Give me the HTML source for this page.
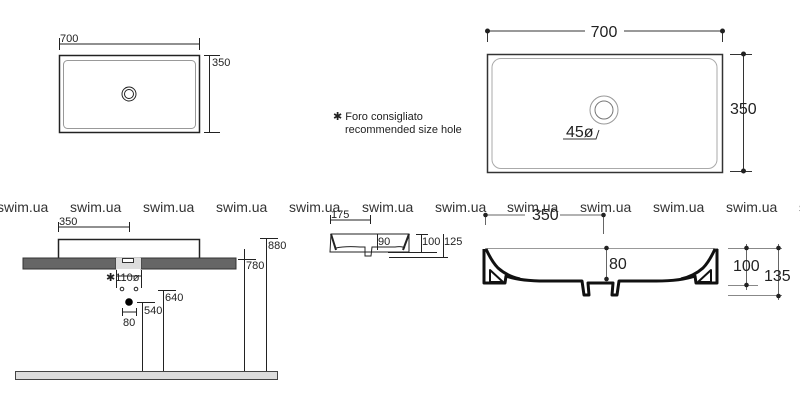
<!DOCTYPE html>
<html><head><meta charset="utf-8"><style>
html,body{margin:0;padding:0;background:#fff;}
svg{display:block;font-family:"Liberation Sans",Arial,sans-serif;}
</style></head><body>
<svg width="800" height="412" viewBox="0 0 800 412" xmlns="http://www.w3.org/2000/svg">
<!-- top-left plan -->
<g stroke="#222" fill="none">
<rect x="59.5" y="55.5" width="140" height="77" stroke-width="1.5"/>
<rect x="63.5" y="60.5" width="132" height="68" rx="4" stroke="#999" stroke-width="1"/>
<circle cx="129" cy="94" r="7" stroke-width="1"/>
<circle cx="129" cy="94" r="4.5" stroke-width="1"/>
<line x1="59" y1="44" x2="199" y2="44" stroke-width="1"/>
<line x1="59.5" y1="38" x2="59.5" y2="50"/><line x1="199.5" y1="38" x2="199.5" y2="50"/>
<line x1="209.5" y1="55" x2="209.5" y2="132"/>
<line x1="204" y1="55.5" x2="220" y2="55.5"/><line x1="204" y1="132.5" x2="220" y2="132.5"/>
</g>
<g fill="#222" font-size="11">
<text x="60" y="42">700</text><text x="212" y="66">350</text>
<text x="333" y="120">✱ Foro consigliato</text>
<text x="345" y="133">recommended size hole</text>
</g>
<!-- top-right plan -->
<g stroke="#333" fill="none">
<rect x="487.5" y="54.5" width="235" height="118" stroke-width="1.5"/>
<rect x="492" y="58.5" width="225" height="110" rx="9" stroke="#aaa"/>
<circle cx="604" cy="110" r="14" stroke="#999"/>
<circle cx="604" cy="110" r="9" stroke="#777"/>
<line x1="487" y1="31" x2="585" y2="31"/><line x1="624" y1="31" x2="722" y2="31"/>
<line x1="487.5" y1="31" x2="487.5" y2="42"/><line x1="722.5" y1="31" x2="722.5" y2="42"/>
<line x1="743.5" y1="54" x2="743.5" y2="172"/>
<line x1="730" y1="54.5" x2="752" y2="54.5"/><line x1="730" y1="171.5" x2="752" y2="171.5"/>
<polyline points="563,139 596,139 599,130"/>
</g>
<g fill="#222">
<circle cx="487.5" cy="31" r="2.5"/><circle cx="722.5" cy="31" r="2.5"/>
<circle cx="743.5" cy="54" r="2.5"/><circle cx="743.5" cy="171" r="2.5"/>
</g>
<g fill="#222" font-size="16">
<text x="604" y="37" text-anchor="middle">700</text>
<text x="730" y="114">350</text>
<text x="566" y="137">45ø</text>
</g>
<!-- watermark -->
<g fill="#333" font-size="14">
<text x="-3" y="212">swim.ua</text><text x="70" y="212">swim.ua</text><text x="143" y="212">swim.ua</text>
<text x="216" y="212">swim.ua</text><text x="289" y="212">swim.ua</text><text x="362" y="212">swim.ua</text>
<text x="435" y="212">swim.ua</text><text x="507" y="212">swim.ua</text><text x="580" y="212">swim.ua</text>
<text x="653" y="212">swim.ua</text><text x="726" y="212">swim.ua</text><text x="799" y="212">swim.ua</text>
</g>
<!-- left elevation -->
<g stroke="#222" fill="none">
<rect x="58.5" y="239.5" width="141" height="19" stroke-width="1.5"/>
<line x1="58.5" y1="227" x2="129" y2="227"/><line x1="58.5" y1="222" x2="58.5" y2="232"/><line x1="129.5" y1="222" x2="129.5" y2="232"/>
</g>
<rect x="23" y="258" width="93" height="11" fill="#666" stroke="#333"/>
<rect x="141" y="258" width="95" height="11" fill="#666" stroke="#333"/>
<rect x="116" y="258" width="25" height="11" fill="#ddd"/>
<rect x="122.5" y="258.5" width="11" height="4" fill="#fff" stroke="#333"/>
<g stroke="#222" fill="none">
<line x1="116.5" y1="270" x2="116.5" y2="288"/><line x1="141.5" y1="270" x2="141.5" y2="288"/>
<line x1="116" y1="276" x2="141" y2="276"/>
<circle cx="122" cy="289" r="1.8"/><circle cx="136" cy="289" r="1.8"/>
<line x1="122" y1="312" x2="136" y2="312"/><line x1="122.5" y1="308" x2="122.5" y2="316"/><line x1="136.5" y1="308" x2="136.5" y2="316"/>
<line x1="142.5" y1="302" x2="142.5" y2="371"/><line x1="137" y1="302.5" x2="155" y2="302.5"/>
<line x1="163.5" y1="290" x2="163.5" y2="371"/><line x1="158" y1="290.5" x2="176" y2="290.5"/>
<line x1="244.5" y1="249" x2="244.5" y2="371"/><line x1="238" y1="259.5" x2="256" y2="259.5"/>
<line x1="266.5" y1="238" x2="266.5" y2="371"/><line x1="260" y1="238.5" x2="278" y2="238.5"/>
</g>
<circle cx="129" cy="302" r="3.8" fill="#000"/>
<rect x="15.5" y="371.5" width="262" height="8" fill="#ddd" stroke="#444"/>
<g fill="#222" font-size="11">
<text x="59" y="225">350</text>
<text x="106" y="281">✱110ø</text>
<text x="123" y="326">80</text>
<text x="144" y="314">540</text><text x="165" y="301">640</text>
<text x="246" y="269">780</text><text x="268" y="249">880</text>
</g>
<!-- middle small section -->
<g stroke="#222" fill="none">
<path d="M331,234 L409,234 L409,252 L330,252 Z" stroke-width="1"/>
<path d="M331,234 L336,250 M409,234 L403,250" stroke-width="2"/>
<path d="M336,248 Q345,246 360,247 L365,247 L365,256 L371,256 L372,247 L395,247 Q402,246 405,248" stroke-width="1"/>
<line x1="330.5" y1="215" x2="330.5" y2="224"/><line x1="370.5" y1="215" x2="370.5" y2="224"/>
<line x1="330" y1="220" x2="370" y2="220"/>
<line x1="377.5" y1="234" x2="377.5" y2="250"/>
<line x1="416" y1="234.5" x2="428" y2="234.5"/><line x1="388" y1="252.5" x2="437" y2="252.5"/>
<line x1="421.5" y1="234" x2="421.5" y2="252"/><line x1="443.5" y1="234" x2="443.5" y2="258"/>
<line x1="389" y1="257.5" x2="448" y2="257.5"/>
</g>
<g fill="#222" font-size="11">
<text x="331" y="218">175</text><text x="378" y="245">90</text>
<text x="422" y="245">100</text><text x="444" y="245">125</text>
</g>
<!-- right section -->
<g stroke="#111" fill="none" stroke-linejoin="round">
<line x1="485" y1="248.5" x2="718" y2="248.5" stroke="#999"/>
<path d="M484,249 L484,283 L505,283 L506,276 Q520,281 545,281 L582,281 L584,295 L589,295 L588,283 L603,283" stroke-width="3"/>
<path d="M486,249 Q492,262 498,268 Q507,276 520,279" stroke-width="3"/>
<path d="M490,270 L490,282 L503,282 Z" stroke-width="2"/>
<path d="M717,249 L717,283 L696,283 L695,276 Q681,281 656,281 L619,281 L617,295 L612,295 L613,283 L603,283" stroke-width="3"/>
<path d="M715,249 Q709,262 703,268 Q694,276 681,279" stroke-width="3"/>
<path d="M711,270 L711,282 L698,282 Z" stroke-width="2"/>
<line x1="485.5" y1="214" x2="485.5" y2="225" stroke="#666"/>
<line x1="603.5" y1="214" x2="603.5" y2="234" stroke="#666"/>
<line x1="485" y1="215" x2="525" y2="215" stroke="#666"/><line x1="560" y1="215" x2="603" y2="215" stroke="#666"/>
<line x1="606.5" y1="247" x2="606.5" y2="279" stroke="#666"/>
<line x1="728" y1="248.5" x2="782" y2="248.5" stroke="#888"/>
<line x1="728" y1="285.5" x2="758" y2="285.5" stroke="#888"/>
<line x1="728" y1="295.5" x2="782" y2="295.5" stroke="#888"/>
<line x1="746.5" y1="244" x2="746.5" y2="290" stroke="#666"/>
<line x1="778.5" y1="244" x2="778.5" y2="300" stroke="#666"/>
</g>
<g fill="#222">
<circle cx="485.5" cy="215" r="2.3"/><circle cx="603.5" cy="215" r="2.3"/>
<circle cx="606.5" cy="248" r="2.3"/><circle cx="606.5" cy="279" r="2.3"/>
<circle cx="746.5" cy="248" r="2.3"/><circle cx="746.5" cy="285" r="2.3"/>
<circle cx="778.5" cy="248" r="2.3"/><circle cx="778.5" cy="296" r="2.3"/>
</g>
<g fill="#222" font-size="16">
<text x="532" y="220">350</text>
<text x="609" y="269">80</text>
<text x="733" y="271">100</text>
<text x="764" y="281">135</text>
</g>
</svg>
</body></html>
